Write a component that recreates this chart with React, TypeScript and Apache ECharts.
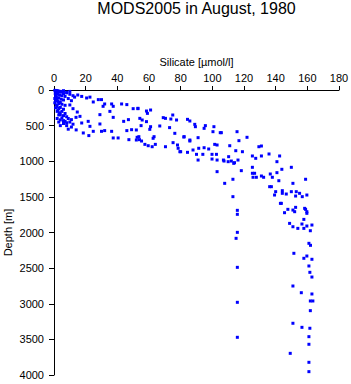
import React, { useEffect, useRef } from "react";
import * as echarts from "echarts";

const titleText = "MODS2005 in August, 1980";
const xName = "Silicate [µmol/l]";
const yName = "Depth [m]";
const xTicks = { min: 0, max: 180, interval: 20 };
const yTicks = { min: 0, max: 4000, interval: 500 };

// [silicate (µmol/l), depth (m)]
const surfaceCluster: number[][] = [
  [0.5, 5], [1, 10], [2, 8], [3, 15], [1, 20], [4, 25], [1.5, 30], [2.5, 40], [5, 30], [6, 50],
  [0.8, 50], [2, 60], [3.5, 70], [1, 80], [5, 80], [7, 90], [1.5, 100], [3, 110], [2, 125], [4.5, 130],
  [6, 140], [1, 150], [2.5, 160], [4, 175], [3, 190], [5, 200], [1.5, 210], [7, 215], [2, 230], [4, 245],
  [3, 260], [6, 270], [2.5, 285], [5, 300], [3.5, 320], [7, 330], [4, 345], [6, 360], [8, 375], [5, 390],
  [9, 400], [4, 420], [7, 440], [10, 450], [6, 470], [12, 480], [8, 500], [11, 520], [9, 550], [14, 560],
  [5, 20], [8, 40], [10, 60], [12, 80], [9, 120], [11, 150], [13, 100], [8, 30], [10, 20], [6, 10],
  [3, 350], [2, 300], [1, 250], [0.5, 180], [0.5, 120], [2, 400], [3, 450], [4, 500], [6, 430], [8, 460],
];

const upperBand: number[][] = [
  [15, 70], [17.5, 90], [20.6, 112], [22.7, 100], [28, 135], [30, 135], [24.8, 168], [32, 196], [36.4, 196],
  [42.7, 196], [46, 205], [50, 262], [53, 262], [10, 210], [12, 262], [14.7, 309], [29, 346], [35.3, 300],
  [37.4, 384], [44, 440], [47, 416], [13.9, 384], [16.4, 370], [11, 416], [17.5, 463], [21.6, 440],
  [22.7, 510], [24.8, 580], [29, 477], [30, 580], [32, 570], [36.4, 580], [37.4, 673], [40.5, 673],
  [46, 570], [49, 557], [47.3, 697], [52.5, 664], [54, 697], [18.5, 603], [22, 640], [37.4, 229], [31, 229],
  [53, 257], [58.4, 295], [61, 281], [59, 328], [54.2, 398], [55.7, 421], [58.4, 444], [55, 500], [61, 515],
  [60.5, 552], [69, 388], [70.4, 398], [73.8, 407], [75, 351], [77.4, 421], [66.8, 505], [73, 528],
  [76.3, 608], [84.3, 412], [85.8, 435], [88.9, 482], [89.3, 515], [95.6, 500], [94.8, 538], [101, 515],
];

const middleBand: number[][] = [
  [52, 561], [53.6, 655], [52, 702], [55.3, 716], [57.4, 763], [59.5, 782], [62, 796], [63.2, 655],
  [64, 763], [62.6, 678], [70.4, 796], [78, 772], [78.4, 818], [79.5, 866], [82.2, 655], [75.2, 739],
  [85.8, 702], [84.3, 875], [87.8, 842], [90, 903], [91.4, 818], [91, 669], [94.8, 810], [97.7, 828],
  [94, 903], [99.8, 903], [102.6, 903], [101.5, 763], [103, 772], [103, 983], [99.8, 969], [91, 983],
  [111, 782], [110.3, 936], [107.4, 997], [112, 997], [105.7, 599], [115.6, 585], [121.9, 664],
  [116.8, 711], [114.8, 852], [119, 866], [129.4, 796], [131, 786], [135.8, 898], [142.5, 926],
  [125.3, 926], [127.4, 959], [131, 926], [107, 983], [110, 1006], [114, 1020], [116.2, 983],
  [113.5, 1029], [140.8, 1006], [149.9, 1085], [125.3, 1085], [100.4, 585], [105, 599], [85.8, 716],
  [80, 866], [82, 660],
];

const deepBand: number[][] = [
  [118.3, 1132], [125.3, 1169], [126.7, 1169], [125.7, 1225], [127.8, 1225], [131, 1207], [132.4, 1225],
  [136.6, 1179], [137.9, 1225], [140.8, 1160], [143.9, 1113], [142, 1273], [158.9, 1253], [136.2, 1357],
  [137.3, 1357], [140, 1427], [144.2, 1413], [146.7, 1460], [150.9, 1310], [149.9, 1427], [153, 1427],
  [155.1, 1450], [152.6, 1488], [156.8, 1497], [159.7, 1474], [139.3, 1474], [144.2, 1450], [107.8, 1310],
  [113, 1497], [113, 1253], [143, 1591], [152.6, 1647], [158.9, 1675], [147.7, 1675], [103, 1146],
  [143.6, 1591], [145.6, 1722], [150.9, 1685], [152, 1708], [158.3, 1661], [159.7, 1708], [159.7, 1731],
  [157.8, 1816], [148.8, 1872], [150.9, 1919], [154, 1942], [156.6, 1881], [157.8, 1942], [159.7, 1909],
  [162.9, 1895], [161.9, 1975], [161, 2152], [162, 2180], [151.5, 2292], [159.7, 2330], [157.8, 2362],
  [162.9, 2376], [161, 2470], [161.6, 2559], [162.9, 2625], [150.9, 2751], [156.2, 2845], [162.9, 2863],
  [161.9, 2961], [163.5, 2961], [161.9, 3097], [150.9, 3274], [156.6, 3331], [161.6, 3344], [161, 3462],
  [161, 3569], [149.2, 3696], [161, 3822], [161, 3953],
];

const column116: number[][] = [
  [115.8, 1689], [115.8, 1745], [115.8, 1998], [115, 2082], [115.8, 2489], [115.8, 2980], [115.8, 3471],
];

const allPoints = [...surfaceCluster, ...upperBand, ...middleBand, ...deepBand, ...column116];

const FONT = "Liberation Sans, Arial, Helvetica, sans-serif";

export default function App() {
  const ref = useRef<HTMLDivElement>(null);
  useEffect(() => {
    if (!ref.current) return;
    const chart = echarts.init(ref.current, null, { renderer: "svg" });
    chart.setOption({
      animation: false,
      backgroundColor: "#ffffff",
      graphic: [
        {
          type: "text",
          x: 196.5,
          y: 8,
          style: {
            text: titleText,
            fill: "#000",
            font: `16px ${FONT}`,
            textAlign: "center",
            textVerticalAlign: "middle",
          },
        },
        {
          type: "text",
          x: 8,
          y: 232.5,
          rotation: Math.PI / 2,
          style: {
            text: yName,
            fill: "#000",
            font: `11px ${FONT}`,
            textAlign: "center",
            textVerticalAlign: "middle",
          },
        },
      ],
      grid: {
        left: 54,
        top: 90,
        right: 12,
        bottom: 9,
        containLabel: false,
        outerBoundsMode: "none",
      },
      xAxis: {
        type: "value",
        position: "top",
        min: xTicks.min,
        max: xTicks.max,
        interval: xTicks.interval,
        name: xName,
        nameLocation: "middle",
        nameGap: 23,
        nameTextStyle: { color: "#000", fontSize: 11, fontFamily: FONT },
        axisLine: { show: true, onZero: false, lineStyle: { color: "#000", width: 1 } },
        axisTick: { show: true, inside: false, length: 4, lineStyle: { color: "#000" } },
        axisLabel: { color: "#000", fontSize: 11, fontFamily: FONT, margin: 7, formatter: (v: number) => String(v) },
        splitLine: { show: false },
      },
      yAxis: {
        type: "value",
        inverse: true,
        min: yTicks.min,
        max: yTicks.max,
        interval: yTicks.interval,
        axisLine: { show: true, onZero: false, lineStyle: { color: "#000", width: 1 } },
        axisTick: { show: true, inside: false, length: 5, lineStyle: { color: "#000" } },
        axisLabel: { color: "#000", fontSize: 11, fontFamily: FONT, margin: 10, formatter: (v: number) => String(v) },
        splitLine: { show: false },
      },
      series: [
        {
          type: "scatter",
          data: allPoints,
          symbol: "rect",
          symbolSize: 3,
          itemStyle: { color: "#0000ff", opacity: 1 },
          emphasis: { disabled: true },
        },
      ],
    });
    return () => chart.dispose();
  }, []);
  return <div ref={ref} style={{ width: 351, height: 384, position: "absolute", left: 0, top: 0 }} />;
}
